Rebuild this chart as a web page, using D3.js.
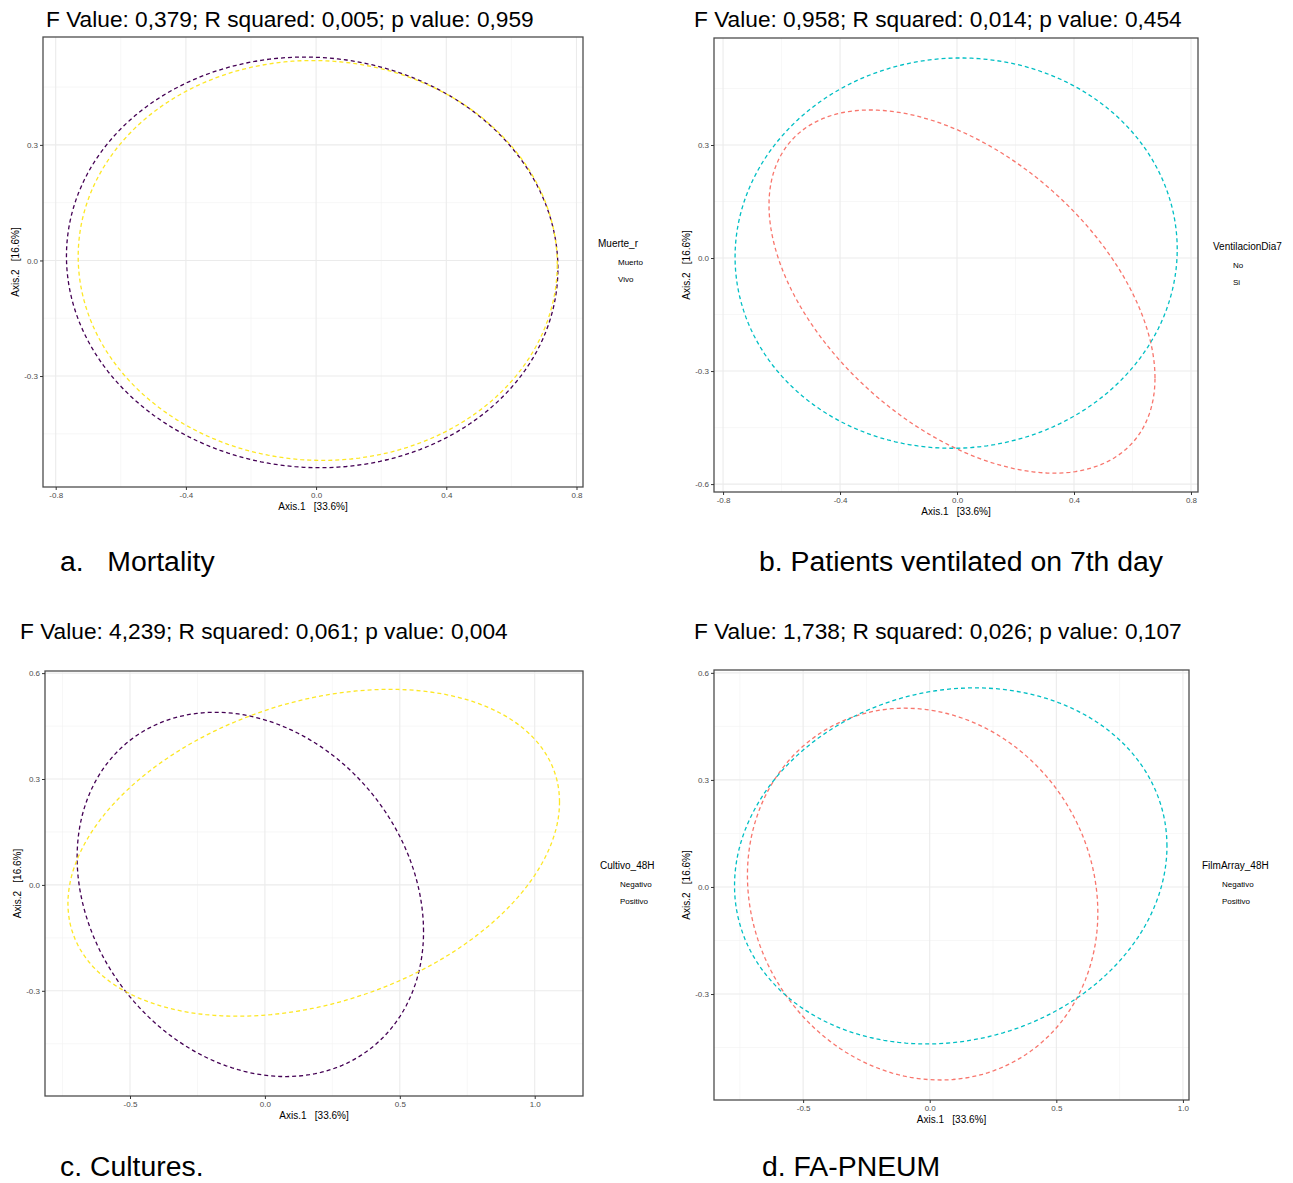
<!DOCTYPE html>
<html>
<head>
<meta charset="utf-8">
<script src="https://cdn.jsdelivr.net/npm/d3@7"></script>
<style>
  body { margin: 0; background: #fff; }
  text { font-family: "Liberation Sans", Arial, sans-serif; }
</style>
</head>
<body>
<div class="canvas"></div>
<script>
// titles and captions
const panelTitles = [
  "F Value: 0,379; R squared: 0,005; p value: 0,959",
  "F Value: 0,958; R squared: 0,014; p value: 0,454",
  "F Value: 4,239; R squared: 0,061; p value: 0,004",
  "F Value: 1,738; R squared: 0,026; p value: 0,107"
];
const captions = ["a.   Mortality", "b. Patients ventilated on 7th day", "c. Cultures.", "d. FA-PNEUM"];
const legendTitles = ["Muerte_r", "VentilacionDia7", "Cultivo_48H", "FilmArray_48H"];
const groupLabels = [["Muerto", "Vivo"], ["No", "Si"], ["Negativo", "Positivo"], ["Negativo", "Positivo"]];
const xLabel = "Axis.1   [33.6%]";
const yLabel = "Axis.2   [16.6%]";

// axis limits and ticks
const xDomains = [[-0.839, 0.820], [-0.831, 0.824], [-0.815, 1.179], [-0.852, 1.024]];
const yDomains = [[-0.588, 0.580], [-0.621, 0.584], [-0.598, 0.606], [-0.597, 0.608]];
const xTicks = [[-0.8, -0.4, 0, 0.4, 0.8], [-0.8, -0.4, 0, 0.4, 0.8], [-0.5, 0, 0.5, 1.0], [-0.5, 0, 0.5, 1.0]];
const yTicks = [[-0.3, 0, 0.3], [-0.6, -0.3, 0, 0.3], [-0.3, 0, 0.3, 0.6], [-0.3, 0, 0.3, 0.6]];

// ellipses (one pair per panel): centre, half extents, k = x-offset of top point / rx
const ellipseCx = [[-0.012, 0.005], [0.017, -0.003], [-0.054, 0.181], [-0.028, 0.083]];
const ellipseCy = [[-0.005, 0.000], [-0.089, 0.013], [-0.027, 0.091], [-0.020, 0.059]];
const ellipseRx = [[0.755, 0.736], [0.660, 0.756], [0.642, 0.911], [0.692, 0.854]];
const ellipseRy = [[0.533, 0.519], [0.482, 0.518], [0.516, 0.463], [0.521, 0.499]];
const ellipseK  = [[-0.03, -0.02], [-0.476, 0.02], [-0.204, 0.31], [-0.10, 0.111]];

const viridis2 = ["#440154", "#FDE725"];
const hue2 = ["#F8766D", "#00BFC4"];
const palettes = [viridis2, hue2, viridis2, hue2];

// layout of the four plot boxes
const boxes = [
  {left: 43, right: 583, top: 37, bottom: 487, titleX: 46, titleY: 27, capX: 60, capY: 571, legX: 598, legY: 243},
  {left: 714, right: 1198, top: 38, bottom: 492, titleX: 694, titleY: 27, capX: 759, capY: 571, legX: 1213, legY: 246},
  {left: 45, right: 583, top: 671, bottom: 1096, titleX: 20, titleY: 639, capX: 60, capY: 1176, legX: 600, legY: 865},
  {left: 714, right: 1189, top: 670, bottom: 1100, titleX: 694, titleY: 639, capX: 762, capY: 1176, legX: 1202, legY: 865}
];

const fmt = v => v.toFixed(1);

const svg = d3.select(".canvas").append("svg")
  .attr("width", 1293)
  .attr("height", 1183);

boxes.forEach((b, i) => {
  const x = d3.scaleLinear().domain(xDomains[i]).range([b.left, b.right]);
  const y = d3.scaleLinear().domain(yDomains[i]).range([b.bottom, b.top]);
  const g = svg.append("g");

  // minor grid
  const xMinor = d3.pairs(xTicks[i]).map(p => (p[0] + p[1]) / 2);
  const yMinor = d3.pairs(yTicks[i]).map(p => (p[0] + p[1]) / 2);
  const xStep = xTicks[i][1] - xTicks[i][0];
  const yStep = yTicks[i][1] - yTicks[i][0];
  xMinor.push(xTicks[i][0] - xStep / 2, xTicks[i][xTicks[i].length - 1] + xStep / 2);
  yMinor.push(yTicks[i][0] - yStep / 2, yTicks[i][yTicks[i].length - 1] + yStep / 2);

  g.selectAll(".xminor").data(xMinor.filter(v => v > xDomains[i][0] && v < xDomains[i][1]))
    .enter().append("line")
    .attr("x1", d => x(d)).attr("x2", d => x(d))
    .attr("y1", b.top).attr("y2", b.bottom)
    .attr("stroke", "#F2F2F2").attr("stroke-width", 0.6);
  g.selectAll(".yminor").data(yMinor.filter(v => v > yDomains[i][0] && v < yDomains[i][1]))
    .enter().append("line")
    .attr("y1", d => y(d)).attr("y2", d => y(d))
    .attr("x1", b.left).attr("x2", b.right)
    .attr("stroke", "#F2F2F2").attr("stroke-width", 0.6);

  // major grid
  g.selectAll(".xmajor").data(xTicks[i]).enter().append("line")
    .attr("x1", d => x(d)).attr("x2", d => x(d))
    .attr("y1", b.top).attr("y2", b.bottom)
    .attr("stroke", "#EBEBEB").attr("stroke-width", 1.1);
  g.selectAll(".ymajor").data(yTicks[i]).enter().append("line")
    .attr("y1", d => y(d)).attr("y2", d => y(d))
    .attr("x1", b.left).attr("x2", b.right)
    .attr("stroke", "#EBEBEB").attr("stroke-width", 1.1);

  // ellipses
  const line = d3.line().x(d => x(d[0])).y(d => y(d[1])).curve(d3.curveLinearClosed);
  [0, 1].forEach(j => {
    const phi = Math.acos(ellipseK[i][j]);
    const pts = d3.range(0, 360, 2).map(a => {
      const t = a * Math.PI / 180;
      return [ellipseCx[i][j] + ellipseRx[i][j] * Math.cos(t),
              ellipseCy[i][j] + ellipseRy[i][j] * Math.cos(t - phi)];
    });
    g.append("path")
      .attr("d", line(pts))
      .attr("fill", "none")
      .attr("stroke", palettes[i][j])
      .attr("stroke-width", 1.3)
      .attr("stroke-dasharray", "4,3");
  });

  // border
  g.append("rect")
    .attr("x", b.left).attr("y", b.top)
    .attr("width", b.right - b.left).attr("height", b.bottom - b.top)
    .attr("fill", "none").attr("stroke", "#4D4D4D").attr("stroke-width", 1.3);

  // axes
  const xAxis = d3.axisBottom(x).tickValues(xTicks[i]).tickFormat(fmt).tickSize(3).tickPadding(2);
  const yAxis = d3.axisLeft(y).tickValues(yTicks[i]).tickFormat(fmt).tickSize(3).tickPadding(2);
  const xg = g.append("g").attr("transform", `translate(0, ${b.bottom})`).call(xAxis);
  const yg = g.append("g").attr("transform", `translate(${b.left}, 0)`).call(yAxis);
  [xg, yg].forEach(ax => {
    ax.select(".domain").remove();
    ax.selectAll("line").attr("stroke", "#333");
    ax.selectAll("text").attr("fill", "#4D4D4D").style("font-size", "8px")
      .style("font-family", "'Liberation Sans', Arial, sans-serif");
  });

  // axis titles
  g.append("text")
    .attr("x", (b.left + b.right) / 2).attr("y", b.bottom + 23)
    .attr("text-anchor", "middle").style("font-size", "10px").style("white-space", "pre")
    .text(xLabel);
  g.append("text")
    .attr("transform", `translate(${b.left - 24}, ${(b.top + b.bottom) / 2}) rotate(-90)`)
    .attr("text-anchor", "middle").style("font-size", "10px").style("white-space", "pre")
    .text(yLabel);

  // legend
  g.append("text").attr("x", b.legX).attr("y", b.legY + 4)
    .style("font-size", "10px").text(legendTitles[i]);
  g.selectAll(".leg").data(groupLabels[i]).enter().append("text")
    .attr("x", b.legX + 20)
    .attr("y", (d, k) => b.legY + 22 + k * 17)
    .style("font-size", "8px")
    .text(d => d);

  // panel title and caption
  svg.append("text").attr("x", b.titleX).attr("y", b.titleY)
    .style("font-size", "22.7px").text(panelTitles[i]);
  svg.append("text").attr("x", b.capX).attr("y", b.capY)
    .style("font-size", "28.4px").style("white-space", "pre").text(captions[i]);
});
</script>
</body>
</html>
